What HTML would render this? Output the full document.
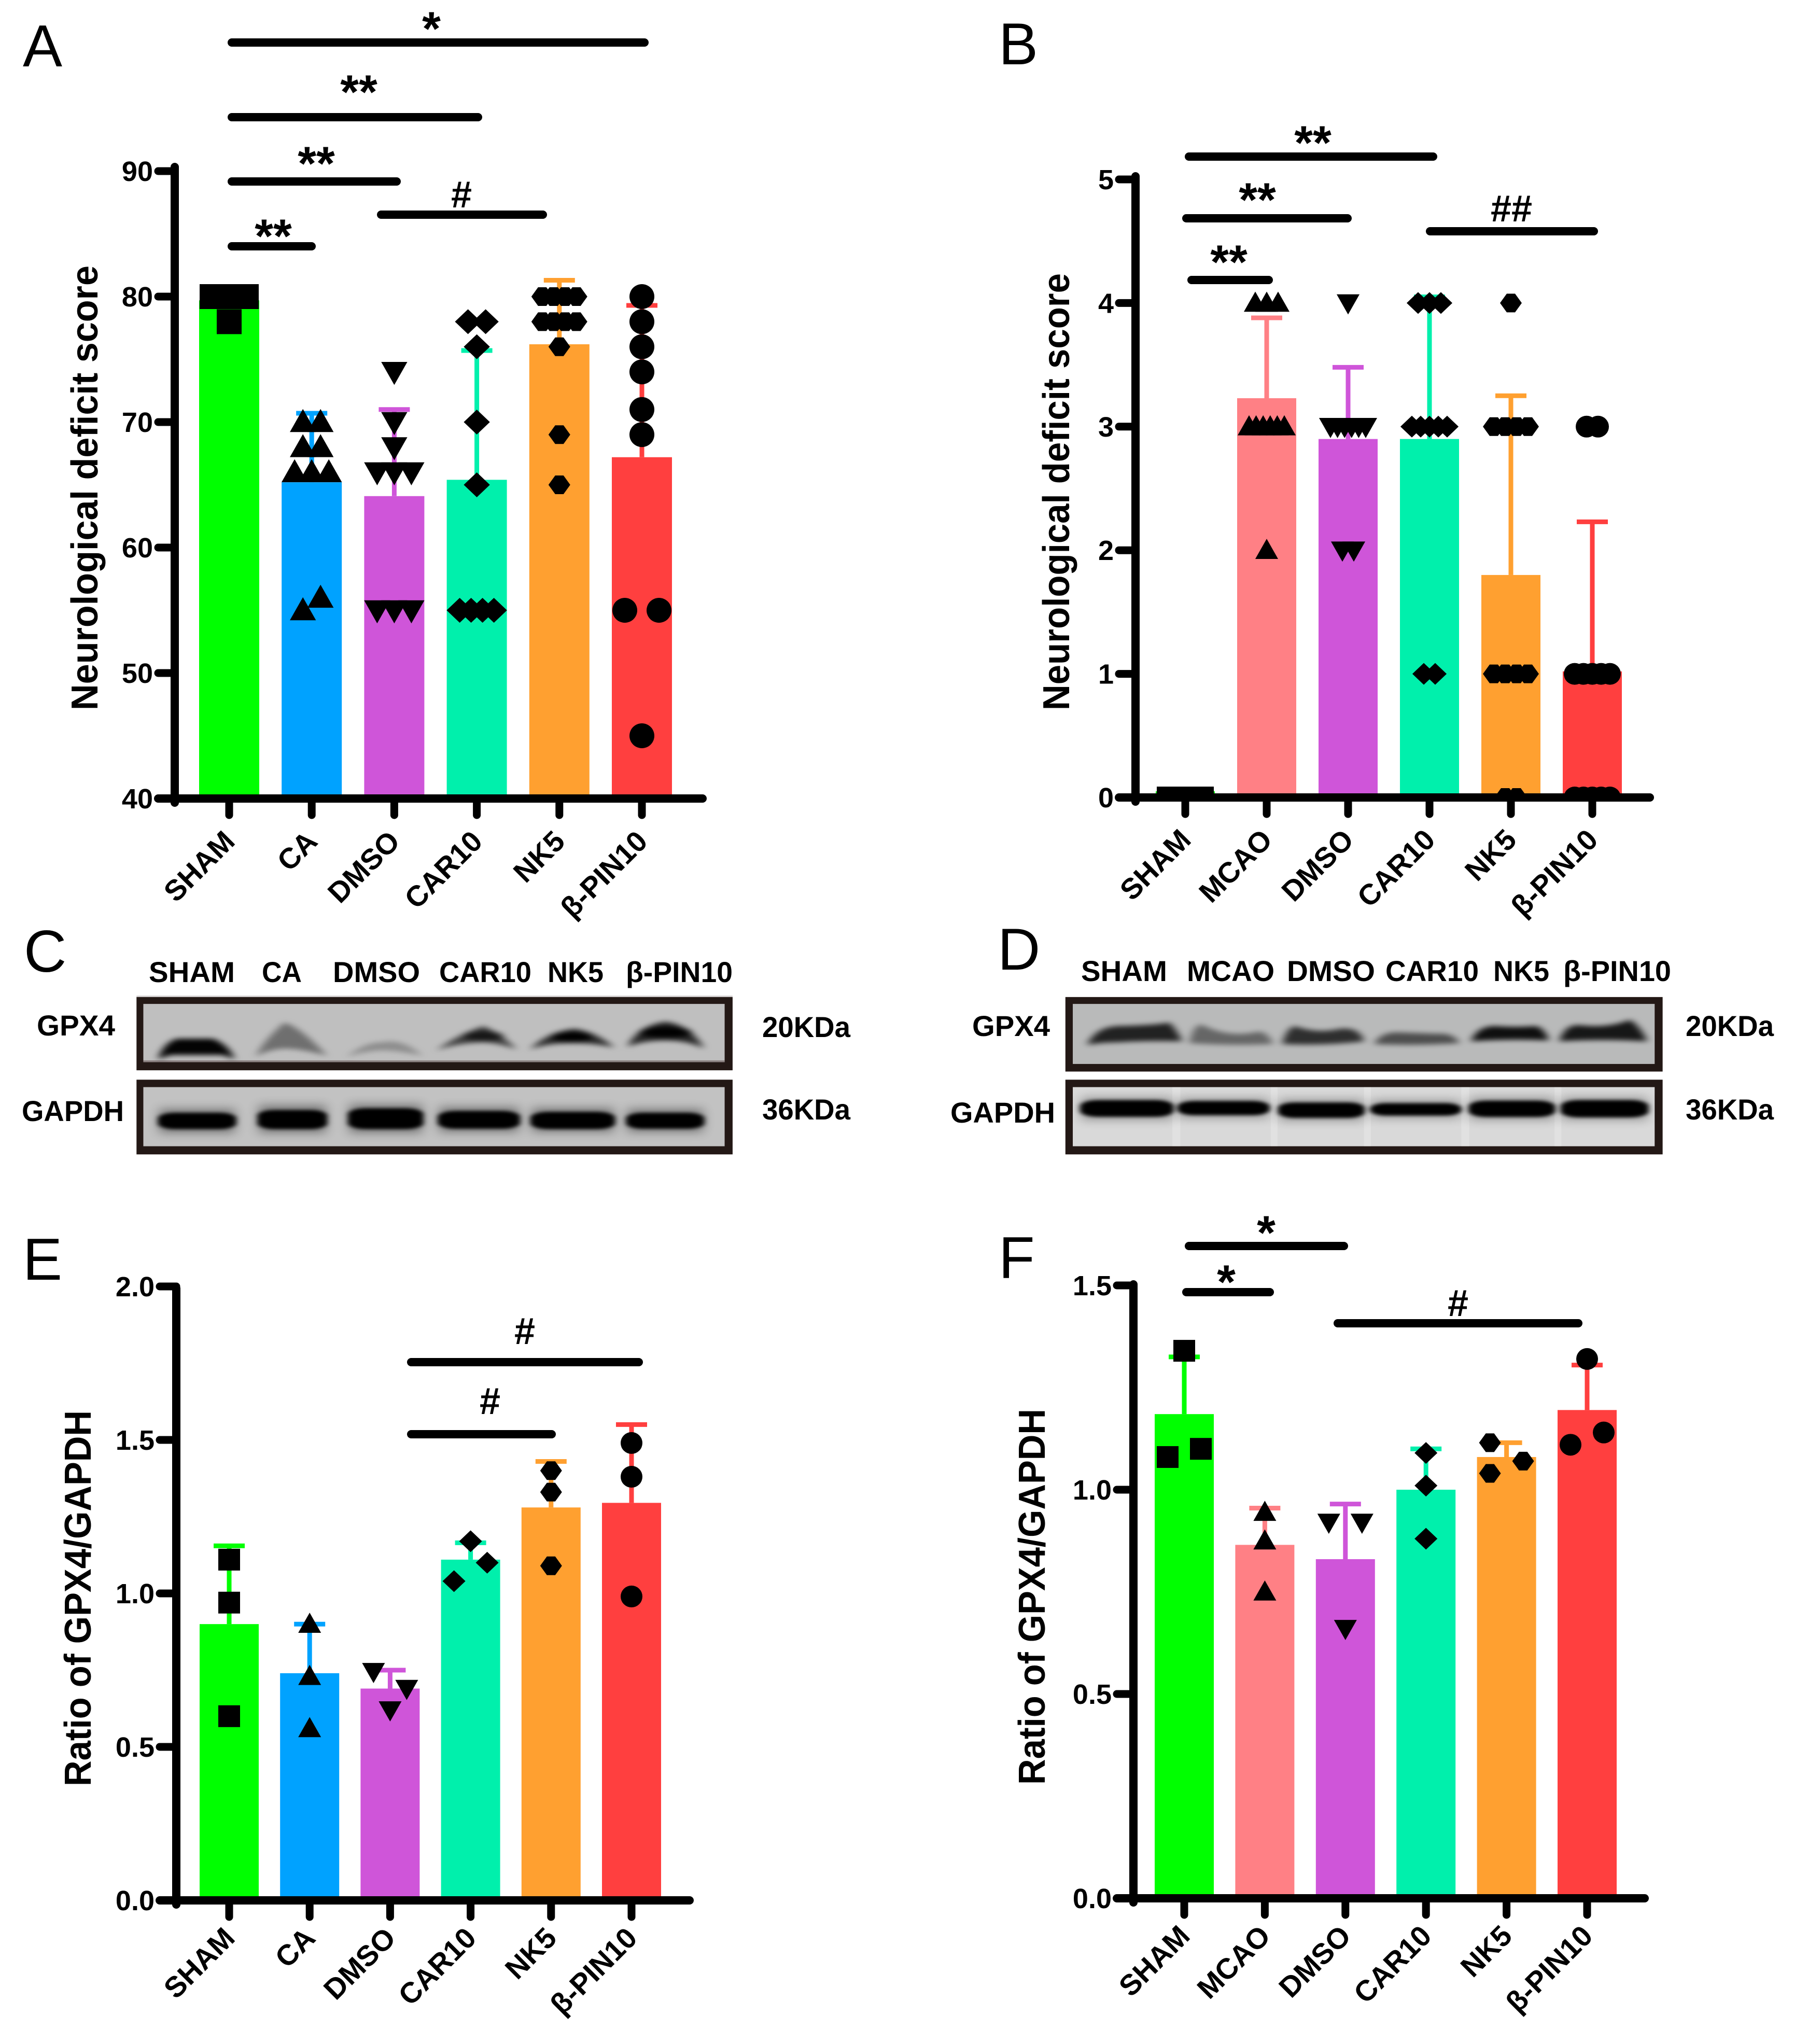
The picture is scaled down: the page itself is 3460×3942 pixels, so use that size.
<!DOCTYPE html>
<html lang="en">
<head>
<meta charset="utf-8">
<title>Neurological deficit scores and GPX4 western blots</title>
<style>
html,body{margin:0;padding:0;background:#fff;}
svg{display:block;}
text{font-family:"Liberation Sans",Arial,sans-serif;fill:#000;}
.letter{font-size:114px;font-weight:400;}
.blot-text{font-size:56px;font-weight:700;}
.sig{font-size:92px;font-weight:700;text-anchor:middle;}
.hash{font-size:72px;font-weight:700;text-anchor:middle;}
.bracket{stroke:#000;stroke-width:16;stroke-linecap:round;}
</style>
</head>
<body>
<svg id="figure" xmlns="http://www.w3.org/2000/svg" width="3460" height="3942" viewBox="0 0 3460 3942">
<defs>
  <filter id="soft" x="-30%" y="-60%" width="160%" height="220%"><feGaussianBlur stdDeviation="7 14"/></filter>
  <filter id="softer" x="-20%" y="-40%" width="140%" height="180%"><feGaussianBlur stdDeviation="5 9"/></filter>
  <filter id="halo" x="-30%" y="-80%" width="160%" height="260%"><feGaussianBlur stdDeviation="10 26"/></filter>
</defs>
<rect width="3460" height="3942" fill="#fff"/>

<text class="letter" x="44" y="128">A</text>
<text class="letter" x="1926" y="124">B</text>
<text class="letter" x="46" y="1874">C</text>
<text class="letter" x="1924" y="1870">D</text>
<text class="letter" x="44" y="2468">E</text>
<text class="letter" x="1926" y="2465">F</text>

<!-- Blot C -->
<g>
<g transform="translate(0,1738) scale(1.097,0.3488)">
  <rect x="240" y="522" width="1048" height="8" fill="#d8d4d4"/>
  <rect x="240" y="530" width="1048" height="405" fill="#231815"/>
  <rect x="252" y="568" width="1022" height="322" fill="#bfbfbf"/>
  <rect x="252" y="880" width="1022" height="10" fill="#8d8383"/>
  <g filter="url(#soft)">
    <path d="M278 875 Q285 790 310 760 L375 760 Q405 800 412 875 L392 850 L300 850 Z" fill="#000" opacity=".98"/>
    <path d="M450 860 Q460 780 500 670 Q530 700 575 855 Q530 815 500 815 Q470 820 450 860Z" fill="#000" opacity=".42"/>
    <path d="M610 860 Q640 780 670 780 Q710 755 742 855 Q700 825 670 825 Q640 830 610 860Z" fill="#000" opacity=".26"/>
    <path d="M768 825 Q800 745 850 690 Q885 740 908 820 Q880 785 850 780 Q800 785 768 825Z" fill="#000" opacity=".68"/>
    <ellipse cx="850" cy="745" rx="36" ry="26" fill="#000" opacity=".65"/>
    <path d="M932 820 Q960 725 1010 705 Q1050 725 1080 810 Q1050 785 1005 785 Q960 785 932 820Z" fill="#000" opacity=".78"/>
    <ellipse cx="1005" cy="750" rx="36" ry="28" fill="#000"/>
    <path d="M1103 805 Q1120 690 1170 665 Q1215 685 1238 815 Q1210 770 1170 770 Q1130 770 1103 805Z" fill="#000" opacity=".8"/>
    <ellipse cx="1170" cy="725" rx="46" ry="30" fill="#000"/>
  </g>
  <rect x="240" y="987" width="1048" height="413" fill="#231815"/>
  <rect x="252" y="1028" width="1022" height="327" fill="#c2c2c2"/>
  <g filter="url(#halo)" opacity=".4">
    <rect x="280" y="1150" width="133" height="130" fill="#000"/>
    <rect x="455" y="1130" width="118" height="150" fill="#000"/>
    <rect x="614" y="1125" width="128" height="155" fill="#000"/>
    <rect x="772" y="1140" width="140" height="135" fill="#000"/>
    <rect x="935" y="1145" width="144" height="130" fill="#000"/>
    <rect x="1103" y="1150" width="133" height="125" fill="#000"/>
  </g>
  <g filter="url(#softer)">
    <rect x="278" y="1170" width="137" height="90" rx="30" fill="#000"/>
    <rect x="453" y="1155" width="122" height="105" rx="30" fill="#000"/>
    <rect x="612" y="1145" width="132" height="115" rx="32" fill="#000"/>
    <rect x="770" y="1160" width="144" height="98" rx="32" fill="#000"/>
    <rect x="933" y="1165" width="148" height="95" rx="32" fill="#000"/>
    <rect x="1101" y="1170" width="137" height="88" rx="30" fill="#000"/>
  </g>
</g>
</g>
<text class="blot-text" x="287" y="1894" textLength="166" lengthAdjust="spacingAndGlyphs">SHAM</text>
<text class="blot-text" x="505" y="1894" textLength="77" lengthAdjust="spacingAndGlyphs">CA</text>
<text class="blot-text" x="642" y="1894" textLength="168" lengthAdjust="spacingAndGlyphs">DMSO</text>
<text class="blot-text" x="847" y="1894" textLength="178" lengthAdjust="spacingAndGlyphs">CAR10</text>
<text class="blot-text" x="1056" y="1894" textLength="108" lengthAdjust="spacingAndGlyphs">NK5</text>
<text class="blot-text" x="1207" y="1894" textLength="206" lengthAdjust="spacingAndGlyphs">β-PIN10</text>
<text class="blot-text" x="71" y="1997" textLength="151" lengthAdjust="spacingAndGlyphs">GPX4</text>
<text class="blot-text" x="42" y="2162" textLength="197" lengthAdjust="spacingAndGlyphs">GAPDH</text>
<text class="blot-text" x="1470" y="2000" textLength="170" lengthAdjust="spacingAndGlyphs">20KDa</text>
<text class="blot-text" x="1470" y="2159" textLength="170" lengthAdjust="spacingAndGlyphs">36KDa</text>

<!-- Blot D -->
<g>
<g transform="translate(1718,1738) scale(1.097,0.3488)">
  <rect x="307" y="530" width="1050" height="412" fill="#231815"/>
  <rect x="320" y="568" width="1023" height="332" fill="#b9baba"/>
  <g filter="url(#soft)">
    <path d="M345 795 Q360 695 400 690 Q470 685 490 670 Q505 720 512 775 Q450 770 400 780 Q370 780 345 795Z" fill="#000" opacity=".82"/>
    <path d="M525 785 Q530 695 545 680 Q590 755 640 725 Q660 705 672 790 Q600 800 525 785Z" fill="#000" opacity=".45"/>
    <path d="M688 790 Q695 705 710 690 Q750 735 790 705 Q825 695 832 775 Q760 800 688 790Z" fill="#000" opacity=".75"/>
    <path d="M850 790 Q860 725 890 725 L960 733 Q990 725 1000 785 Q920 800 850 790Z" fill="#000" opacity=".58"/>
    <path d="M1020 775 Q1030 695 1060 690 Q1100 700 1135 690 Q1150 705 1157 770 Q1090 760 1020 775Z" fill="#000" opacity=".92"/>
    <path d="M1175 775 Q1185 680 1210 685 Q1260 705 1300 655 Q1320 700 1330 775 Q1250 760 1175 775Z" fill="#000" opacity=".88"/>
  </g>
  <rect x="307" y="987" width="1050" height="413" fill="#231815"/>
  <rect x="320" y="1028" width="1023" height="327" fill="#d9d9d9"/>
  <g opacity=".35">
    <rect x="495" y="1028" width="14" height="327" fill="#f0f0f0"/>
    <rect x="668" y="1028" width="12" height="327" fill="#f0f0f0"/>
    <rect x="832" y="1028" width="12" height="327" fill="#f0f0f0"/>
    <rect x="1003" y="1028" width="14" height="327" fill="#f0f0f0"/>
    <rect x="1167" y="1028" width="12" height="327" fill="#f0f0f0"/>
  </g>
  <g filter="url(#halo)" opacity=".3">
    <rect x="335" y="1085" width="160" height="125" fill="#000"/>
    <rect x="506" y="1090" width="158" height="110" fill="#000"/>
    <rect x="683" y="1095" width="148" height="120" fill="#000"/>
    <rect x="845" y="1100" width="156" height="100" fill="#000"/>
    <rect x="1018" y="1085" width="148" height="125" fill="#000"/>
    <rect x="1180" y="1085" width="150" height="125" fill="#000"/>
  </g>
  <g filter="url(#softer)">
    <rect x="333" y="1100" width="164" height="92" rx="32" fill="#000"/>
    <rect x="504" y="1105" width="162" height="78" rx="30" fill="#000"/>
    <rect x="681" y="1113" width="152" height="85" rx="30" fill="#000"/>
    <rect x="843" y="1117" width="160" height="68" rx="28" fill="#000"/>
    <rect x="1016" y="1103" width="152" height="90" rx="32" fill="#000"/>
    <rect x="1178" y="1100" width="154" height="95" rx="32" fill="#000"/>
  </g>
</g>
</g>
<text class="blot-text" x="2085" y="1892" textLength="166" lengthAdjust="spacingAndGlyphs">SHAM</text>
<text class="blot-text" x="2289" y="1892" textLength="169" lengthAdjust="spacingAndGlyphs">MCAO</text>
<text class="blot-text" x="2482" y="1892" textLength="170" lengthAdjust="spacingAndGlyphs">DMSO</text>
<text class="blot-text" x="2672" y="1892" textLength="180" lengthAdjust="spacingAndGlyphs">CAR10</text>
<text class="blot-text" x="2880" y="1892" textLength="108" lengthAdjust="spacingAndGlyphs">NK5</text>
<text class="blot-text" x="3015" y="1892" textLength="208" lengthAdjust="spacingAndGlyphs">β-PIN10</text>
<text class="blot-text" x="1875" y="1998" textLength="150" lengthAdjust="spacingAndGlyphs">GPX4</text>
<text class="blot-text" x="1833" y="2165" textLength="202" lengthAdjust="spacingAndGlyphs">GAPDH</text>
<text class="blot-text" x="3251" y="1998" textLength="170" lengthAdjust="spacingAndGlyphs">20KDa</text>
<text class="blot-text" x="3251" y="2159" textLength="170" lengthAdjust="spacingAndGlyphs">36KDa</text>

<g id="charts"></g>

<!-- Significance brackets -->
<g>
  <line class="bracket" x1="447" y1="82" x2="1243" y2="82"/>
  <line class="bracket" x1="447" y1="226" x2="922" y2="226"/>
  <line class="bracket" x1="447" y1="350" x2="765" y2="350"/>
  <line class="bracket" x1="735" y1="414" x2="1047" y2="414"/>
  <line class="bracket" x1="447" y1="475" x2="601" y2="475"/>
  <text class="sig" x="832" y="87">*</text>
  <text class="sig" x="692" y="209">**</text>
  <text class="sig" x="610" y="347">**</text>
  <text class="hash" x="890" y="400">#</text>
  <text class="sig" x="527" y="487">**</text>
</g>
<g>
  <line class="bracket" x1="2293" y1="302" x2="2764" y2="302"/>
  <line class="bracket" x1="2288" y1="421" x2="2599" y2="421"/>
  <line class="bracket" x1="2758" y1="446" x2="3074" y2="446"/>
  <line class="bracket" x1="2298" y1="540" x2="2447" y2="540"/>
  <text class="sig" x="2532" y="307">**</text>
  <text class="sig" x="2425" y="417">**</text>
  <text class="sig" x="2370" y="537">**</text>
  <text class="hash" x="2915" y="427">##</text>
</g>
<g>
  <line class="bracket" x1="793" y1="2627" x2="1232" y2="2627"/>
  <line class="bracket" x1="793" y1="2766" x2="1064" y2="2766"/>
  <text class="hash" x="1012" y="2592">#</text>
  <text class="hash" x="945" y="2727">#</text>
</g>
<g>
  <line class="bracket" x1="2293" y1="2403" x2="2592" y2="2403"/>
  <line class="bracket" x1="2288" y1="2492" x2="2449" y2="2492"/>
  <line class="bracket" x1="2580" y1="2552" x2="3044" y2="2552"/>
  <text class="sig" x="2442" y="2409">*</text>
  <text class="sig" x="2365" y="2504">*</text>
  <text class="hash" x="2812" y="2538">#</text>
</g>
</svg>

<script>
// ---------- Panel A data ----------
const categoriesA = ['SHAM','CA','DMSO','CAR10','NK5','β-PIN10'];
const tickValuesA = [40,50,60,70,80,90];
const tickLabelsA = ['40','50','60','70','80','90'];
const barValuesA = [79.7,65.2,64.1,65.4,76.2,67.2];
const errorTopsA = [79.7,70.7,71,75.7,81.3,79.3];
const pointRowsA = [
  [[80,80,80,80,80,80,80,80],[78]],
  [[70,70],[68,68],[66,66,66],[55,56]],
  [[74],[70],[68],[66,66,66],[55,55,55]],
  [[78,78],[76],[70],[65],[55,55,55,55]],
  [[80,80,80,80],[78,78,78,78],[76],[69],[65]],
  [[80],[78],[76],[74],[71],[69],[55,null,55],[45]]
];

// ---------- Panel B data ----------
const categoriesB = ['SHAM','MCAO','DMSO','CAR10','NK5','β-PIN10'];
const tickValuesB = [0,1,2,3,4,5];
const tickLabelsB = ['0','1','2','3','4','5'];
const barValuesB = [0.05,3.23,2.9,2.9,1.8,1.02];
const errorTopsB = [0.05,3.88,3.48,4.05,3.25,2.23];
const pointRowsB = [
  [[0,0,0,0,0,0,0,0]],
  [[4,4,4],[3,3,3,3,3,3],[2]],
  [[4],[3,3,3,3,3,3],[2,2]],
  [[4,4,4],[3,3,3,3,3],[1,1]],
  [[4],[3,3,3,3],[1,1,1,1],[0,0]],
  [[3,3],[1,1,1,1,1],[0,0,0,0,0]]
];

// ---------- Panel E data ----------
const categoriesE = ['SHAM','CA','DMSO','CAR10','NK5','β-PIN10'];
const tickValuesE = [0,0.5,1,1.5,2];
const tickLabelsE = ['0.0','0.5','1.0','1.5','2.0'];
const barValuesE = [0.9,0.74,0.69,1.11,1.28,1.295];
const errorTopsE = [1.155,0.9,0.75,1.165,1.43,1.55];
const pointRowsE = [
  [[1.11],[0.97],[0.6]],
  [[0.9],[0.73],[0.56]],
  [[0.745,null,0.69],[0.62]],
  [[1.17],[1.04,null,1.1]],
  [[1.4],[1.33],[1.09]],
  [[1.49],[1.38],[0.99]]
];

// ---------- Panel F data ----------
const categoriesF = ['SHAM','MCAO','DMSO','CAR10','NK5','β-PIN10'];
const tickValuesF = [0,0.5,1,1.5];
const tickLabelsF = ['0.0','0.5','1.0','1.5'];
const barValuesF = [1.185,0.865,0.83,1.0,1.08,1.195];
const errorTopsF = [1.325,0.955,0.965,1.1,1.115,1.305];
const pointRowsF = [
  [[1.34],[1.08,null,1.1]],
  [[0.945],[0.875],[0.75]],
  [[0.92,null,0.92],[0.66]],
  [[1.09],[1.01],[0.88]],
  [[1.115,null,1.07],[1.04,null,null]],
  [[1.32],[1.11,null,1.14]]
];

const markerShapes = ['square','triangle','triangleDown','diamond','hexagon','circle'];
const paletteAE = ['#00ff00','#00a2ff','#cf55d9','#00f0ac','#ffa030','#ff3f3f'];
const paletteBF = ['#00ff00','#ff8085','#cf55d9','#00f0ac','#ffa030','#ff3f3f'];

const SVGNS = 'http://www.w3.org/2000/svg';
const chartRoot = document.getElementById('charts');

function makeEl(tag, parent) {
  const el = document.createElementNS(SVGNS, tag);
  parent.appendChild(el);
  return el;
}
function setAttrs(el, attrs) {
  for (const k in attrs) el.setAttribute(k, attrs[k]);
}
function slug(s) {
  return s.toLowerCase().replace('β-', 'beta-');
}

function markerPoints(shape, cx, cy, r) {
  const pts = [];
  if (shape === 'triangle') {
    pts.push([cx, cy - r * 1.05], [cx + r * 1.05, cy + r * 0.8], [cx - r * 1.05, cy + r * 0.8]);
  } else if (shape === 'triangleDown') {
    pts.push([cx - r * 1.05, cy - r * 0.8], [cx + r * 1.05, cy - r * 0.8], [cx, cy + r * 1.05]);
  } else if (shape === 'diamond') {
    pts.push([cx, cy - r], [cx + r * 1.05, cy], [cx, cy + r], [cx - r * 1.05, cy]);
  } else {
    pts.push([cx - 21, cy], [cx - 8, cy - 18], [cx + 8, cy - 18],
             [cx + 21, cy], [cx + 8, cy + 18], [cx - 8, cy + 18]);
  }
  return pts.map(p => p.join(',')).join(' ');
}

function drawMarker(parent, shape, cx, cy, size, name) {
  const r = size / 2;
  let el;
  if (shape === 'square') {
    el = makeEl('rect', parent);
    setAttrs(el, {x: cx - r, y: cy - r, width: size, height: size, fill: '#000'});
  } else if (shape === 'circle') {
    el = makeEl('circle', parent);
    setAttrs(el, {cx: cx, cy: cy, r: r, fill: '#000'});
  } else {
    el = makeEl('polygon', parent);
    setAttrs(el, {points: markerPoints(shape, cx, cy, r), fill: '#000'});
  }
  
  
}

function drawPanel(id, data, view) {
  const yScale = v => view.y0 + (v - view.vMin) / (view.vMax - view.vMin) * (view.yMaxPx - view.y0);
  const xScale = i => view.x0 + i * view.step;

  const g = makeEl('g', chartRoot);
  
  

  data.barValues.forEach((v, i) => {
    const cx = xScale(i), top = yScale(v), errY = yScale(data.errorTops[i]);
    const color = data.colors[i];
    const err = makeEl('path', g);
    setAttrs(err, {d: 'M' + cx + ' ' + top + 'V' + errY + 'M' + (cx - 30) + ' ' + errY + 'H' + (cx + 30),
                   stroke: color, 'stroke-width': 9, fill: 'none'});
    
    
    const bar = makeEl('rect', g);
    setAttrs(bar, {x: cx - view.barW / 2, y: top, width: view.barW, height: view.y0 - top, fill: color});
    
    
  });

  // Points at the axis minimum are clipped by the x axis, as in the original plot.
  const clip = makeEl('clipPath', g);
  clip.setAttribute('id', 'plot-clip-' + id);
  const clipRect = makeEl('rect', clip);
  setAttrs(clipRect, {x: 0, y: 0, width: 3460, height: view.y0});

  const marks = makeEl('g', g);
  marks.setAttribute('clip-path', 'url(#plot-clip-' + id + ')');
  
  

  data.pointRows.forEach((rows, i) => {
    const cx = xScale(i);
    rows.forEach(row => {
      const n = row.length;
      const gap = n > 1 ? Math.min(view.gapMax, view.spreadMax / (n - 1)) : 0;
      row.forEach((v, j) => {
        if (v === null) return;
        const px = cx + (j - (n - 1) / 2) * gap;
        drawMarker(marks, markerShapes[i], px, yScale(v), view.marker, 'point-' + id + '-' + slug(data.categories[i]));
      });
    });
  });

  const yAxis = makeEl('line', g);
  setAttrs(yAxis, {x1: view.axisX, y1: view.axisTop, x2: view.axisX, y2: view.y0 + 8,
                   stroke: '#000', 'stroke-width': 16, 'stroke-linecap': 'round'});
  
  

  const xAxis = makeEl('line', g);
  setAttrs(xAxis, {x1: view.axisX - 32, y1: view.y0, x2: view.xEnd, y2: view.y0,
                   stroke: '#000', 'stroke-width': 16, 'stroke-linecap': 'round'});
  
  

  data.tickValues.forEach((v, i) => {
    const y = yScale(v);
    const t = makeEl('line', g);
    setAttrs(t, {x1: view.axisX, y1: y, x2: view.axisX - 32, y2: y,
                 stroke: '#000', 'stroke-width': 15, 'stroke-linecap': 'round'});
    
    
    const lab = makeEl('text', g);
    setAttrs(lab, {x: view.axisX - 42, y: y + 19, 'text-anchor': 'end', 'font-size': 54, 'font-weight': 700});
    lab.textContent = data.tickLabels[i];
    
    
  });

  data.categories.forEach((c, i) => {
    const cx = xScale(i);
    const t = makeEl('line', g);
    setAttrs(t, {x1: cx, y1: view.y0, x2: cx, y2: view.y0 + 32,
                 stroke: '#000', 'stroke-width': 15, 'stroke-linecap': 'round'});
    
    
    const lab = makeEl('text', g);
    const lx = cx + 14, ly = view.y0 + view.labelDy;
    setAttrs(lab, {x: lx, y: ly, 'text-anchor': 'end', 'font-size': 56, 'font-weight': 700,
                   transform: 'rotate(-45 ' + lx + ' ' + ly + ')'});
    lab.textContent = c;
    
    
  });

  const title = makeEl('text', g);
  setAttrs(title, {x: view.titleX, y: view.titleBottom, 'font-size': 72, 'font-weight': 700,
                   textLength: view.titleLength, lengthAdjust: 'spacingAndGlyphs',
                   transform: 'rotate(-90 ' + view.titleX + ' ' + view.titleBottom + ')'});
  title.textContent = data.title;
  
  
}

drawPanel('a',
  {categories: categoriesA, tickValues: tickValuesA, tickLabels: tickLabelsA, barValues: barValuesA,
   errorTops: errorTopsA, pointRows: pointRowsA, colors: paletteAE, title: 'Neurological deficit score'},
  {axisX: 337, axisTop: 322, y0: 1540, yMaxPx: 330, vMin: 40, vMax: 90, x0: 442, step: 159.2, barW: 116,
   xEnd: 1355, marker: 48, gapMax: 34, spreadMax: 66, labelDy: 86, titleX: 188, titleBottom: 1370, titleLength: 858});

drawPanel('b',
  {categories: categoriesB, tickValues: tickValuesB, tickLabels: tickLabelsB, barValues: barValuesB,
   errorTops: errorTopsB, pointRows: pointRowsB, colors: paletteBF, title: 'Neurological deficit score'},
  {axisX: 2190, axisTop: 340, y0: 1538, yMaxPx: 346, vMin: 0, vMax: 5, x0: 2286, step: 157, barW: 114,
   xEnd: 3182, marker: 42, gapMax: 22, spreadMax: 68, labelDy: 85, titleX: 2062, titleBottom: 1370, titleLength: 843});

drawPanel('e',
  {categories: categoriesE, tickValues: tickValuesE, tickLabels: tickLabelsE, barValues: barValuesE,
   errorTops: errorTopsE, pointRows: pointRowsE, colors: paletteAE, title: 'Ratio of GPX4/GAPDH'},
  {axisX: 340, axisTop: 2485, y0: 3665, yMaxPx: 2481, vMin: 0, vMax: 2, x0: 442, step: 155.2, barW: 114,
   xEnd: 1330, marker: 42, gapMax: 32, spreadMax: 64, labelDy: 76, titleX: 175, titleBottom: 3445, titleLength: 725});

drawPanel('f',
  {categories: categoriesF, tickValues: tickValuesF, tickLabels: tickLabelsF, barValues: barValuesF,
   errorTops: errorTopsF, pointRows: pointRowsF, colors: paletteBF, title: 'Ratio of GPX4/GAPDH'},
  {axisX: 2186, axisTop: 2477, y0: 3661, yMaxPx: 2479, vMin: 0, vMax: 1.5, x0: 2284, step: 155.4, barW: 114,
   xEnd: 3172, marker: 42, gapMax: 32, spreadMax: 64, labelDy: 76, titleX: 2015, titleBottom: 3442, titleLength: 725});
</script>
</body>
</html>
